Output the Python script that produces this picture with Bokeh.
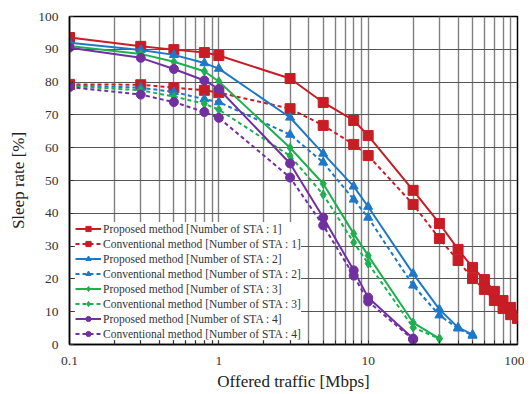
from bokeh.plotting import figure
from bokeh.models import FixedTicker, CustomJSTickFormatter, Legend, LegendItem
from bokeh.embed import file_html
from bokeh.resources import INLINE

# ---- data ----
x_all = [0.1, 0.3, 0.5, 0.8, 1, 3, 5, 8, 10, 20, 30, 40, 50, 60, 70, 80, 90, 100]

prop1 = [93.6, 90.9, 89.9, 89.0, 88.1, 81.1, 73.8, 68.3, 63.7, 47.0, 36.9, 29.0, 23.5, 19.8, 16.2, 13.4, 11.3, 8.8]
conv1 = [79.3, 79.2, 78.3, 77.5, 76.8, 71.9, 66.8, 61.0, 57.6, 42.7, 32.3, 25.6, 20.1, 16.8, 13.4, 11.0, 9.1, 7.9]

prop2 = [92.0, 89.8, 88.3, 85.8, 84.1, 69.2, 58.2, 48.2, 42.0, 21.6, 10.7, 5.2, 3.0]
conv2 = [79.0, 78.3, 77.0, 74.8, 73.9, 64.0, 55.5, 44.2, 38.7, 18.0, 8.9, 4.9, 2.7]

prop3 = [91.0, 88.6, 86.2, 83.3, 80.2, 60.0, 49.0, 33.8, 27.1, 6.7, 1.8]
conv3 = [78.8, 77.5, 75.6, 73.4, 71.6, 57.5, 45.7, 31.1, 24.7, 5.2, 1.8]

prop4 = [90.5, 87.4, 84.0, 80.5, 77.9, 55.2, 38.7, 22.6, 14.3, 1.8]
conv4 = [78.5, 76.2, 73.9, 70.9, 69.1, 50.9, 36.3, 21.0, 13.1, 1.5]

labels = [
    "Proposed method [Number of STA : 1]",
    "Conventional method [Number of STA : 1]",
    "Proposed method [Number of STA : 2]",
    "Conventional method [Number of STA : 2]",
    "Proposed method [Number of STA : 3]",
    "Conventional method [Number of STA : 3]",
    "Proposed method [Number of STA : 4]",
    "Conventional method [Number of STA : 4]",
]
major_x = [0.1, 1, 10, 100]
minor_x = [0.2, 0.3, 0.4, 0.5, 0.6, 0.7, 0.8, 0.9,
           2, 3, 4, 5, 6, 7, 8, 9,
           20, 30, 40, 50, 60, 70, 80, 90]
y_ticks = [0, 10, 20, 30, 40, 50, 60, 70, 80, 90, 100]

colors = ["#C81D25", "#C81D25", "#1E78C8", "#1E78C8", "#1EB050", "#1EB050", "#7030A0", "#7030A0"]
markers = ["square", "square", "triangle", "triangle", "diamond", "diamond", "circle", "circle"]
sizes = [10, 10, 9, 9, 9, 9, 9, 9]
series = [prop1, conv1, prop2, conv2, prop3, conv3, prop4, conv4]

SERIF = "'Liberation Serif', serif"

p = figure(width=524, height=394, x_axis_type="log", x_range=(0.1, 100), y_range=(0, 100),
           output_backend="svg", toolbar_location=None,
           min_border_left=69, min_border_right=7, min_border_top=16, min_border_bottom=50)

p.background_fill_color = "white"
p.outline_line_color = "black"
p.outline_line_width = 1.5
p.outline_line_alpha = 1

p.xaxis.ticker = FixedTicker(ticks=major_x, minor_ticks=minor_x)
p.xaxis.formatter = CustomJSTickFormatter(code="return tick >= 1 ? tick.toFixed(0) : tick.toFixed(1);")
p.yaxis.ticker = FixedTicker(ticks=y_ticks)

for ax in (p.xaxis, p.yaxis):
    ax.axis_line_color = "black"
    ax.axis_line_width = 1.5
    ax.major_tick_in = 4
    ax.major_tick_out = 0
    ax.major_tick_line_color = "#333333"
    ax.major_label_text_font = SERIF
    ax.major_label_text_font_size = "13.5px"
    ax.major_label_text_color = "#333333"
    ax.axis_label_text_font = SERIF
    ax.axis_label_text_font_size = "17px"
    ax.axis_label_text_font_style = "normal"
    ax.axis_label_text_color = "#222222"

p.xaxis.minor_tick_in = 4
p.xaxis.minor_tick_out = 0
p.xaxis.minor_tick_line_color = "#333333"
p.yaxis.minor_tick_line_color = None
p.xaxis.major_label_standoff = 12
p.xaxis.axis_label_standoff = 4
p.yaxis.major_label_standoff = 11
p.yaxis.axis_label_standoff = 7
p.xaxis.axis_label = "Offered traffic [Mbps]"
p.yaxis.axis_label = "Sleep rate [%]"

p.xgrid.grid_line_color = "#808080"
p.xgrid.grid_line_width = 1.4
p.xgrid.minor_grid_line_color = "#808080"
p.xgrid.minor_grid_line_width = 1.4
p.ygrid.grid_line_color = "#555555"
p.ygrid.grid_line_width = 1.2

items = []
for i, ys in enumerate(series):
    xs = x_all[:len(ys)]
    dash = "solid" if i % 2 == 0 else "4 3"
    r1 = p.line(xs, ys, line_color=colors[i], line_width=2, line_dash=dash)
    r2 = p.scatter(xs, ys, marker=markers[i], size=sizes[i], fill_color=colors[i], line_color=colors[i])
    items.append(LegendItem(label=labels[i], renderers=[r1, r2]))

legend = Legend(items=items, location=(6, 4), background_fill_color="white", background_fill_alpha=1,
                border_line_color=None, label_text_font=SERIF, label_text_font_size="11.5px",
                label_text_color="#333333", glyph_width=26, glyph_height=13, label_height=13,
                label_standoff=2, spacing=2, padding=3, margin=0)
p.add_layout(legend)

open("out.html", "w").write(file_html(p, INLINE))
